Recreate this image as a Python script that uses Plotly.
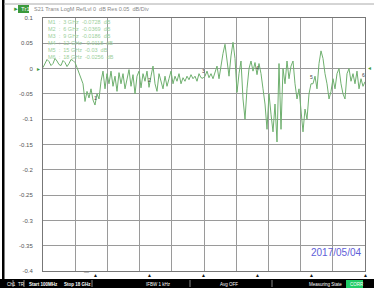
import numpy as np
import plotly.graph_objects as go

# ---- data ----
start_ghz = 0.1
stop_ghz = 18.0
s21_db = [
    # 0.1 .. ~1.8 GHz
    0.002, 0.010, 0.018, 0.014, 0.006, 0.010, 0.020, 0.015, 0.008, 0.006,
    0.016, 0.012, 0.004, 0.010, 0.018, 0.016, 0.012,
    # dip region
    0.002, -0.010, -0.020, -0.030, -0.065, -0.045, -0.058, -0.040, -0.062, -0.072,
    -0.050, -0.060, -0.025,
    # oscillation
    -0.005, -0.040, -0.010, -0.030, -0.005, -0.035, -0.015, -0.045, -0.008, -0.030,
    -0.010, -0.040, -0.020, -0.002, -0.035, -0.012, -0.050, -0.015, -0.005, -0.038,
    -0.010, -0.025, -0.005, -0.037, -0.015, 0.005, -0.030, -0.045, -0.010, -0.025,
    -0.040, -0.015, -0.035, -0.020, -0.005, -0.030, -0.015, -0.025, -0.010, -0.030,
    # flatter
    -0.018, -0.025, -0.015, -0.022, -0.012, -0.020, -0.015, -0.025, -0.010, -0.018,
    -0.019, -0.015, -0.005, -0.018, -0.010, -0.020, -0.008,
    # peaks
    0.005, -0.020, 0.010, 0.030, 0.048, 0.010, -0.015, 0.025, 0.052, 0.020,
    -0.047, -0.010, 0.015, -0.060, -0.100, -0.040, 0.000, 0.015, -0.005, 0.012,
    -0.012,
    # deep dips
    0.010, -0.010, -0.040, -0.070, -0.120, -0.050, -0.090, -0.125, -0.070, -0.145,
    0.010, -0.120, 0.000, -0.030, 0.015, -0.020, 0.005, 0.015, -0.030,
    # tail
    -0.060, -0.040, -0.090, -0.125, -0.080, -0.100, -0.050, -0.030, -0.030, -0.015,
    -0.040, 0.010, 0.035, 0.020, -0.010, -0.030, -0.060, -0.045, -0.020, -0.040,
    -0.010, 0.000, -0.030, -0.050, -0.060, -0.010, 0.000, -0.025, -0.010, -0.030,
    -0.005, -0.040, -0.020, -0.035, -0.026,
]
freq_ghz = np.linspace(start_ghz, stop_ghz, len(s21_db))

marker_names = ["M1", "M2", "M3", "M4", "M5", "M6"]
marker_freq = [3, 6, 9, 12, 15, 18]
marker_vals = ["-0.0728", "-0.0369", "-0.0186", "-0.0118", "-0.03", "-0.0256"]
marker_db = [-0.0728, -0.0369, -0.0186, -0.0118, -0.03, -0.0256]

y_ticks = [0.1, 0.05, 0, -0.05, -0.1, -0.15, -0.2, -0.25, -0.3, -0.35, -0.4]
y_labels = ["0.1", "0.05", "0", "-0.05", "-0.1", "-0.15", "-0.2", "-0.25", "-0.3", "-0.35", "-0.4"]

# ---- geometry helpers (pixels -> paper) ----
W, H = 374, 288
L, R, T, B = 43, 365, 18, 271
def px(x):
    return (x - L) / (R - L)
def py(y):
    return (B - y) / (B - T)

green = "#6fb06f"
fig = go.Figure()
fig.add_trace(go.Scatter(x=freq_ghz, y=s21_db, mode="lines",
                         line=dict(color=green, width=1), hoverinfo="skip"))

fig.update_layout(
    width=W, height=H, margin=dict(l=L, r=W - R, t=T, b=H - B),
    paper_bgcolor="white", plot_bgcolor="white", showlegend=False,
    font=dict(family="Liberation Sans, Arial", size=6, color="#666"),
)
fig.update_xaxes(range=[start_ghz, stop_ghz],
                 tickvals=list(np.linspace(start_ghz, stop_ghz, 11)),
                 showticklabels=False, ticks="", showgrid=True,
                 gridcolor="#9a9a9a", gridwidth=1, zeroline=False,
                 showline=True, linecolor="#777", mirror=True)
fig.update_yaxes(range=[-0.4, 0.1], tickvals=y_ticks, ticktext=y_labels,
                 showgrid=True, gridcolor="#9a9a9a", gridwidth=1, zeroline=False,
                 showline=True, linecolor="#777", mirror=True, ticks="",
                 ticklabelstandoff=8, tickfont=dict(size=6, color="#555"))

shapes = []
# left black border
shapes.append(dict(type="rect", xref="paper", yref="paper", x0=px(2), x1=px(4.5),
                   y0=py(279), y1=py(0), fillcolor="black", line=dict(width=0)))
# top gray line
shapes.append(dict(type="line", xref="paper", yref="paper", x0=px(4), x1=px(374),
                   y0=py(4), y1=py(4), line=dict(color="#aaa", width=1)))
# status bar
shapes.append(dict(type="rect", xref="paper", yref="paper", x0=px(0), x1=px(374),
                   y0=py(288), y1=py(279), fillcolor="black", line=dict(width=0)))
# Tr1 box
shapes.append(dict(type="rect", xref="paper", yref="paper", x0=px(18), x1=px(29),
                   y0=py(13), y1=py(5), fillcolor="#3c9a3c", line=dict(width=0)))
# CORR box
shapes.append(dict(type="rect", xref="paper", yref="paper", x0=px(346), x1=px(363),
                   y0=py(288), y1=py(280), fillcolor="#22cc66", line=dict(width=0)))
# separators in status bar
for sx in [13, 24, 92, 190, 272]:
    shapes.append(dict(type="line", xref="paper", yref="paper", x0=px(sx), x1=px(sx),
                       y0=py(287), y1=py(280), line=dict(color="#888", width=1)))
fig.update_layout(shapes=shapes)

ann = []
def text(x, y, s, size=6, color="#666", xanchor="left", **kw):
    ann.append(dict(x=px(x), y=py(y), xref="paper", yref="paper", text=s,
                    showarrow=False, xanchor=xanchor, yanchor="middle",
                    font=dict(size=size, color=color), **kw))

text(11, 9, "►", size=6, color="#3c9a3c")
text(18.5, 9, "Tr1", size=6, color="white")
text(32, 9, "S21 Trans LogM RefLvl 0  dB Res 0.05  dB/Div", size=5.5, color="#888")

# marker table
for i, (n, f, v) in enumerate(zip(marker_names, marker_freq, marker_vals)):
    text(46, 22 + i * 7, f"{n}  :  {f} GHz  {v}  dB", size=5.5, color="#9ccf9c")

# ref level arrows
text(43, 69, "►", size=5, color="#3c9a3c", xanchor="right")
text(365, 67.5, "◄", size=5, color="#3c9a3c")

# marker numbers on trace
for i, (f, d) in enumerate(zip(marker_freq, marker_db)):
    ann.append(dict(x=f, y=d, xref="x", yref="y", text=str(i + 1), showarrow=False,
                    yanchor="bottom", yshift=2, xshift=-2 if i == 5 else 0,
                    font=dict(size=5, color="#444")))
    # bottom triangles
    ann.append(dict(x=f, y=py(274.5), xref="x", yref="paper", text="▲", showarrow=False,
                    yanchor="middle", font=dict(size=5, color="#111")))

text(82, 272, "—", size=5, color="#555")

# date
text(309, 252, "2017/05/04", size=10, color="#6060d8")

# status bar text
sb = 284
text(5, sb, "Ch1", size=4.5, color="white")
text(16, sb, "TR", size=4.5, color="white")
text(27, sb, "<b>Start 100MHz</b>", size=4.5, color="white")
text(62, sb, "<b>Stop 18 GHz</b>", size=4.5, color="white")
text(144, sb, "IFBW 1 kHz", size=4.5, color="white")
text(218, sb, "Avg OFF", size=4.5, color="white")
text(344, sb, "Measuring State", size=4.5, color="white", xanchor="right")
text(347.5, sb, "CORR", size=4.5, color="white")

fig.update_layout(annotations=ann)
fig.write_html("out.html", config={"displayModeBar": False},
               post_script="document.body.style.margin='0';")
